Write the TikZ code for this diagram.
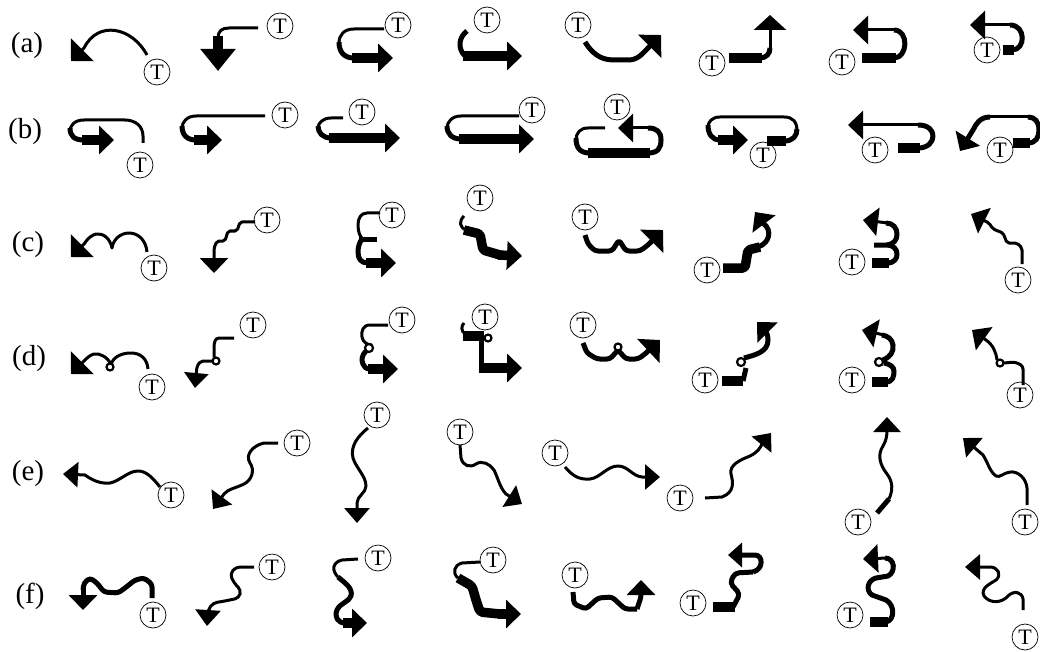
\documentclass[tikz,border=0pt]{standalone}
\usepackage{fontspec}
\setmainfont{Liberation Serif}
\usetikzlibrary{arrows.meta}

\begin{document}
\begin{tikzpicture}[x=1pt,y=-1pt,line join=round,
    touch/.style={circle,draw,line width=0.7pt,inner sep=0pt,minimum size=26pt,font=\fontsize{22}{22}\selectfont},
    rowlabel/.style={font=\fontsize{29}{29}\selectfont},
    gstroke/.style={line width=3pt},
    gmedium/.style={line width=5pt},
    gheavy/.style={line width=9.5pt},
    gtip/.style={-{Triangle[length=15pt,width=28pt]}},
    gbigtip/.style={-{Triangle[length=16pt,width=32pt]}},
    loop/.style={line width=2.2pt,fill=white}]
  \useasboundingbox (0,0) rectangle (1040,652);

  % row (a)
  \node[rowlabel] (la) at (27,46) {(a)};
  \node[touch] (ta1) at (157,72) {T};
  \draw[gstroke,gbigtip] (147,55) .. controls (132,27) and (98,20) .. (84,48) -- (71,61);
  \node[touch] (ta2) at (280,26) {T};
  \draw[gstroke] (258,28) -- (229,28) .. controls (222,28) and (218,31) .. (218,38);
  \draw[gheavy,-{Triangle[length=22pt,width=34pt]}] (218,36) -- (218,71);
  \node[touch] (ta3) at (398,25) {T};
  \draw[gstroke] (384,29) -- (354,29) .. controls (344,29) and (339,35) .. (339,43);
  \draw[gmedium] (339,42) .. controls (339,52) and (344,58) .. (354,58);
  \draw[gheavy,gtip] (352,58) -- (393,58);
  \node[touch] (ta4) at (487,20) {T};
  \draw[gmedium] (467,31) .. controls (459,37) and (457,48) .. (465,56);
  \draw[gheavy,gtip] (463,56) -- (522,56);
  \node[touch] (ta5) at (578,25) {T};
  \draw[gmedium,gbigtip] (585,42) .. controls (595,58) and (605,60) .. (615,60) -- (628,60) .. controls (638,60) and (642,54) .. (648,48) -- (661,35);
  \node[touch] (ta6) at (712,63) {T};
  \draw[gheavy] (729,58) -- (762,58);
  \draw[gmedium] (760,58) .. controls (766,58) and (770,54) .. (770,48);
  \draw[gstroke,-{Triangle[length=15pt,width=32pt]}] (770,50) -- (770,15);
  \node[touch] (ta7) at (842,62) {T};
  \draw[gheavy] (862,58) -- (896,58);
  \draw[gmedium] (894,58) .. controls (908,58) and (909,30) .. (894,30);
  \draw[gstroke,gtip] (896,30) -- (853,30);
  \node[touch] (ta8) at (987,50) {T};
  \draw[gheavy] (1003,50) -- (1014,50);
  \draw[gmedium] (1012,50) .. controls (1026,50) and (1026,25) .. (1010,25);
  \draw[gstroke,gtip] (1012,25) -- (970,25);

  % row (b)
  \node[rowlabel] (lb) at (25,132) {(b)};
  \node[touch] (tb1) at (140,165) {T};
  \draw[gstroke] (143,143) -- (143,136) .. controls (143,126) and (135,120) .. (125,120) -- (84,120) .. controls (74,120) and (70,126) .. (70,131);
  \draw[gmedium] (70,128) .. controls (70,136) and (74,140) .. (84,140);
  \draw[gheavy,gtip] (82,140) -- (114,140);
  \node[touch] (tb2) at (285,115) {T};
  \draw[gstroke] (265,116) -- (196,116) .. controls (187,116) and (182,122) .. (182,128);
  \draw[gmedium] (182,126) .. controls (182,135) and (187,140) .. (196,140);
  \draw[gheavy,gtip] (194,140) -- (222,140);
  \node[touch] (tb3) at (362,112) {T};
  \draw[gstroke] (343,118) -- (331,118) .. controls (323,118) and (318,123) .. (318,128);
  \draw[gmedium] (318,126) .. controls (318,133) and (323,138) .. (331,138);
  \draw[gheavy,gtip] (329,138) -- (400,138);
  \node[touch] (tb4) at (532,110) {T};
  \draw[gstroke] (519,116) -- (461,116) .. controls (452,116) and (447,122) .. (447,128);
  \draw[gmedium] (447,126) .. controls (447,134) and (452,139) .. (461,139);
  \draw[gheavy,gtip] (459,139) -- (534,139);
  \node[touch] (tb5) at (617,107) {T};
  \draw[gstroke] (605,128) -- (588,128) .. controls (580,128) and (576,133) .. (576,140);
  \draw[gmedium] (576,138) .. controls (576,148) and (580,153) .. (590,153);
  \draw[gheavy] (588,153) -- (650,153);
  \draw[gmedium] (648,153) .. controls (658,153) and (661,148) .. (661,140) .. controls (661,132) and (657,128) .. (648,128);
  \draw[gstroke,gtip] (650,128) -- (618,128);
  \node[touch] (tb6) at (763,155) {T};
  \draw[gheavy] (767,141) -- (786,141);
  \draw[gmedium] (784,141) .. controls (793,141) and (797,136) .. (797,129);
  \draw[gstroke] (797,131) .. controls (797,122) and (793,117) .. (784,117) -- (720,117) .. controls (712,117) and (708,122) .. (708,127);
  \draw[gmedium] (708,125) .. controls (708,134) and (712,140) .. (720,140);
  \draw[gheavy,gtip] (718,140) -- (748,140);
  \node[touch] (tb7) at (875,150) {T};
  \draw[gheavy] (898,148) -- (920,148);
  \draw[gmedium] (918,148) .. controls (928,148) and (933,142) .. (933,136) .. controls (933,130) and (928,125) .. (918,125);
  \draw[gstroke,gtip] (920,125) -- (848,125);
  \node[touch] (tb8) at (1000,150) {T};
  \draw[gheavy] (1013,143) -- (1030,143);
  \draw[gmedium] (1028,143) .. controls (1036,143) and (1039,137) .. (1039,130) .. controls (1039,122) and (1035,117) .. (1028,117);
  \draw[gstroke] (1030,117) -- (990,117);
  \draw[gmedium,gtip] (990,117) .. controls (980,117) and (976,124) .. (973,130) -- (960,151);

  % row (c)
  \node[rowlabel] (lc) at (28,245) {(c)};
  \node[touch] (tc1) at (154,268) {T};
  \draw[gstroke,gbigtip] (147,252) .. controls (146,240) and (138,233) .. (129,233) .. controls (120,233) and (113,240) .. (112,248) .. controls (110,238) and (103,233) .. (96,234) .. controls (92,235) and (88,238) .. (84,244) -- (71,257);
  \node[touch] (tc2) at (267,220) {T};
  \draw[gstroke,gtip,rounded corners=2pt] (255,222) -- (240,222) -- (237,231) -- (228,231) -- (225,241) -- (217,241) -- (214,248) -- (214,273);
  \node[touch] (tc3) at (392,215) {T};
  \draw[gstroke] (380,213) -- (367,213) .. controls (361,213) and (358,218) .. (358,225) .. controls (358,232) and (360,237) .. (363,239);
  \draw[gmedium] (359,239) -- (377,239);
  \draw[gmedium] (362,239) .. controls (359,243) and (358,248) .. (358,252) .. controls (358,259) and (361,263) .. (368,263);
  \draw[gheavy,gtip] (366,263) -- (396,263);
  \node[touch] (tc4) at (480,198) {T};
  \draw[gstroke] (464,216) .. controls (459,221) and (459,227) .. (466,230);
  \draw[gheavy,rounded corners=2pt] (464,230) -- (480,234) -- (483,250) -- (500,255);
  \draw[gheavy,gtip] (498,255) -- (522,256);
  \node[touch] (tc5) at (585,217) {T};
  \draw[gmedium,gbigtip,rounded corners=3pt] (585,235) -- (588,244) -- (595,251) -- (612,251) -- (619,240) -- (626,251) -- (640,251) -- (648,245) -- (663,230);
  \node[touch] (tc6) at (707,270) {T};
  \draw[gheavy,rounded corners=2pt] (723,268) -- (745,268) -- (748,250) -- (760,247);
  \draw[gmedium,gtip] (758,247) .. controls (770,243) and (772,230) .. (764,224) -- (755,212);
  \node[touch] (tc7) at (852,262) {T};
  \draw[gheavy] (872,263) -- (889,263);
  \draw[gmedium] (887,263) .. controls (895,263) and (897,258) .. (897,254) .. controls (897,249) and (893,245) .. (887,245) -- (874,245);
  \draw[gmedium] (887,245) .. controls (894,244) and (897,240) .. (897,234) .. controls (897,228) and (893,223) .. (886,223);
  \draw[gstroke,gtip] (888,223) -- (863,220);
  \node[touch] (tc8) at (1018,280) {T};
  \draw[gstroke,gtip,rounded corners=2pt] (1022,264) -- (1022,248) -- (1017,243) -- (1007,243) -- (1003,233) -- (993,229) -- (989,223) -- (971,214);

  % row (d)
  \node[rowlabel] (ld) at (29,359) {(d)};
  \node[touch] (td1) at (152,387) {T};
  \draw[gstroke,gbigtip] (148,369) .. controls (147,358) and (140,353) .. (131,353) .. controls (120,353) and (113,358) .. (111,364) .. controls (107,357) and (100,353) .. (94,354) .. controls (90,355) and (87,358) .. (84,361) -- (71,374);
  \draw[loop] (110,367) circle (3.5);
  \node[touch] (td2) at (253,325) {T};
  \draw[gstroke,rounded corners=3pt] (234,338) -- (216,338) -- (214,344) -- (214,357);
  \draw[gstroke,-{Triangle[length=15pt,width=24pt]},rounded corners=2pt] (213,361) -- (201,361) -- (197,366) -- (195,388);
  \draw[loop] (216,361) circle (3.5);
  \node[touch] (td3) at (402,320) {T};
  \draw[gstroke] (388,325) -- (370,325) .. controls (363,325) and (361,331) .. (362,337) .. controls (363,343) and (368,345) .. (372,345);
  \draw[gmedium] (366,351) .. controls (362,355) and (361,360) .. (363,364) .. controls (364,367) and (366,369) .. (370,369);
  \draw[loop] (369,348) circle (4);
  \draw[gheavy,gtip] (368,369) -- (398,369);
  \node[touch] (td4) at (485,317) {T};
  \draw[gstroke] (464,323) .. controls (461,326) and (461,331) .. (465,334);
  \draw[gheavy] (463,336) -- (484,336);
  \draw[gmedium] (481,340) -- (481,366);
  \draw[loop] (488,338) circle (3.5);
  \draw[gheavy,gtip] (479,368) -- (522,368);
  \node[touch] (td5) at (583,325) {T};
  \draw[gmedium,gbigtip,rounded corners=3pt] (583,343) -- (587,353) -- (597,359) -- (610,359) -- (618,350) -- (626,359) -- (638,359) -- (645,354) -- (660,340);
  \draw[loop] (618,347) circle (3.5);
  \node[touch] (td6) at (705,380) {T};
  \draw[gheavy] (722,381) -- (743,381);
  \draw[gmedium] (743,381) -- (746,368);
  \draw[gmedium,gtip] (744,358) .. controls (755,355) and (768,352) .. (768,340) .. controls (768,332) and (763,328) .. (757,322);
  \draw[loop] (741,362) circle (4);
  \node[touch] (td7) at (852,380) {T};
  \draw[gheavy] (872,382) -- (888,382);
  \draw[gmedium] (886,382) .. controls (893,382) and (894,376) .. (894,371) .. controls (894,367) and (890,364) .. (884,363);
  \draw[gmedium] (883,360) .. controls (890,357) and (894,352) .. (893,345) .. controls (892,339) and (888,336) .. (882,335);
  \draw[loop] (879,362) circle (4);
  \draw[gstroke,gtip] (884,335) -- (862,330);
  \node[touch] (td8) at (1020,395) {T};
  \draw[gstroke,rounded corners=3pt] (1023,385) -- (1023,366) -- (1015,362) -- (1004,363);
  \draw[gstroke,gtip] (997,360) .. controls (996,352) and (993,345) .. (986,340) -- (972,330);
  \draw[loop] (1000,363) circle (3.5);

  % row (e)
  \node[rowlabel] (le) at (28,474) {(e)};
  \node[touch] (te1) at (171,495) {T};
  \draw[gstroke,-{Triangle[length=15pt,width=25pt]}] (160,487) .. controls (152,477) and (146,471) .. (138,471) .. controls (128,471) and (120,481) .. (110,483) .. controls (100,484) and (92,480) .. (85,475) -- (63,474);
  \node[touch] (te2) at (297,443) {T};
  \draw[gstroke,-{Triangle[length=15pt,width=25pt]}] (278,443) -- (264,443) .. controls (252,446) and (245,455) .. (250,463) .. controls (255,470) and (252,480) .. (244,484) .. controls (236,488) and (228,489) .. (224,494) -- (213,509);
  \node[touch] (te3) at (377,415) {T};
  \draw[gstroke,-{Triangle[length=15pt,width=25pt]}] (368,428) .. controls (358,436) and (350,446) .. (353,458) .. controls (356,468) and (366,476) .. (366,486) .. controls (366,493) and (357,496) .. (357,503) -- (357,523);
  \node[touch] (te4) at (460,432) {T};
  \draw[gstroke,-{Triangle[length=15pt,width=25pt]}] (460,445) -- (461,458) .. controls (463,466) and (470,468) .. (476,464) .. controls (482,460) and (490,464) .. (494,470) .. controls (498,478) and (500,488) .. (506,494) -- (522,504);
  \node[touch] (te5) at (555,453) {T};
  \draw[gstroke,-{Triangle[length=15pt,width=25pt]}] (565,467) .. controls (572,475) and (578,480) .. (590,479) .. controls (600,478) and (607,466) .. (618,466) .. controls (628,466) and (632,476) .. (642,477) -- (660,477);
  \node[touch] (te6) at (680,498) {T};
  \draw[gstroke,-{Triangle[length=15pt,width=25pt]}] (705,498) -- (722,497) .. controls (735,492) and (733,482) .. (731,474) .. controls (729,465) and (740,460) .. (750,456) .. controls (758,452) and (760,448) .. (762,444) -- (771,433);
  \node[touch] (te7) at (858,522) {T};
  \draw[gmedium] (877,513) -- (889,499);
  \draw[gstroke,-{Triangle[length=15pt,width=27pt]}] (889,499) .. controls (893,490) and (893,482) .. (887,474) .. controls (880,465) and (877,455) .. (883,446) .. controls (886,441) and (887,436) .. (887,430) -- (887,417);
  \node[touch] (te8) at (1025,522) {T};
  \draw[gstroke,-{Triangle[length=15pt,width=25pt]}] (1027,505) -- (1027,488) .. controls (1026,478) and (1018,471) .. (1010,472) .. controls (1003,473) and (1000,478) .. (996,476) .. controls (990,472) and (988,463) .. (983,455) -- (963,438);

  % row (f)
  \node[rowlabel] (lf) at (30,596) {(f)};
  \node[touch] (tf1) at (153,615) {T};
  \draw[gmedium,rounded corners=3pt] (152,598) -- (152,584) -- (144,578) -- (135,580) -- (125,588) -- (118,593) -- (104,592) -- (97,583) -- (90,578) -- (84,583) -- (83,590);
  \draw[gmedium,gtip] (83,588) -- (83,610);
  \node[touch] (tf2) at (272,567) {T};
  \draw[gstroke,-{Triangle[length=16pt,width=25pt]},rounded corners=4pt] (254,567) -- (236,567) -- (230,574) -- (234,583) -- (241,590) -- (239,598) -- (225,601) -- (213,603) -- (208,610) -- (207,626);
  \node[touch] (tf3) at (378,558) {T};
  \draw[gstroke] (358,559) -- (342,560) .. controls (333,562) and (331,570) .. (338,577);
  \draw[gmedium] (338,577) .. controls (345,583) and (353,588) .. (351,596) .. controls (349,602) and (340,603) .. (337,610) .. controls (334,617) and (338,623) .. (345,623);
  \draw[gheavy,gtip] (343,623) -- (367,623);
  \node[touch] (tf4) at (493,560) {T};
  \draw[gstroke] (480,562) -- (462,563) .. controls (454,565) and (452,573) .. (458,578);
  \draw[gheavy,rounded corners=3pt] (458,578) -- (472,586) -- (476,600) -- (480,612) -- (500,614);
  \draw[gheavy,gtip] (498,614) -- (521,614);
  \node[touch] (tf5) at (575,575) {T};
  \draw[gmedium,rounded corners=3pt] (573,592) -- (574,604) -- (586,609) -- (598,598) -- (612,597) -- (625,609) -- (637,609);
  \draw[gmedium,gtip,rounded corners=3pt] (637,609) -- (641,597) -- (641,580);
  \node[touch] (tf6) at (693,603) {T};
  \draw[gheavy] (713,607) -- (735,607);
  \draw[gmedium,rounded corners=4pt] (733,607) -- (740,594) -- (730,583) -- (735,573) -- (753,572);
  \draw[gmedium,-{Triangle[length=14pt,width=24pt]}] (753,572) .. controls (764,569) and (763,555) .. (755,555) -- (728,555);
  \node[touch] (tf7) at (850,615) {T};
  \draw[gheavy] (870,622) -- (888,622);
  \draw[gmedium] (886,622) .. controls (895,620) and (895,605) .. (886,600) -- (872,595) .. controls (865,590) and (868,580) .. (876,578) -- (888,576) .. controls (896,572) and (895,558) .. (885,558);
  \draw[gstroke,gtip] (887,558) -- (863,559);
  \node[touch] (tf8) at (1025,637) {T};
  \draw[gstroke,-{Triangle[length=15pt,width=25pt]}] (1023,610) -- (1023,599) .. controls (1022,592) and (1014,590) .. (1008,596) .. controls (1002,603) and (990,604) .. (984,596) .. controls (980,588) and (990,584) .. (996,580) .. controls (1002,575) and (998,567) .. (990,567) -- (965,567);
\end{tikzpicture}
\end{document}
